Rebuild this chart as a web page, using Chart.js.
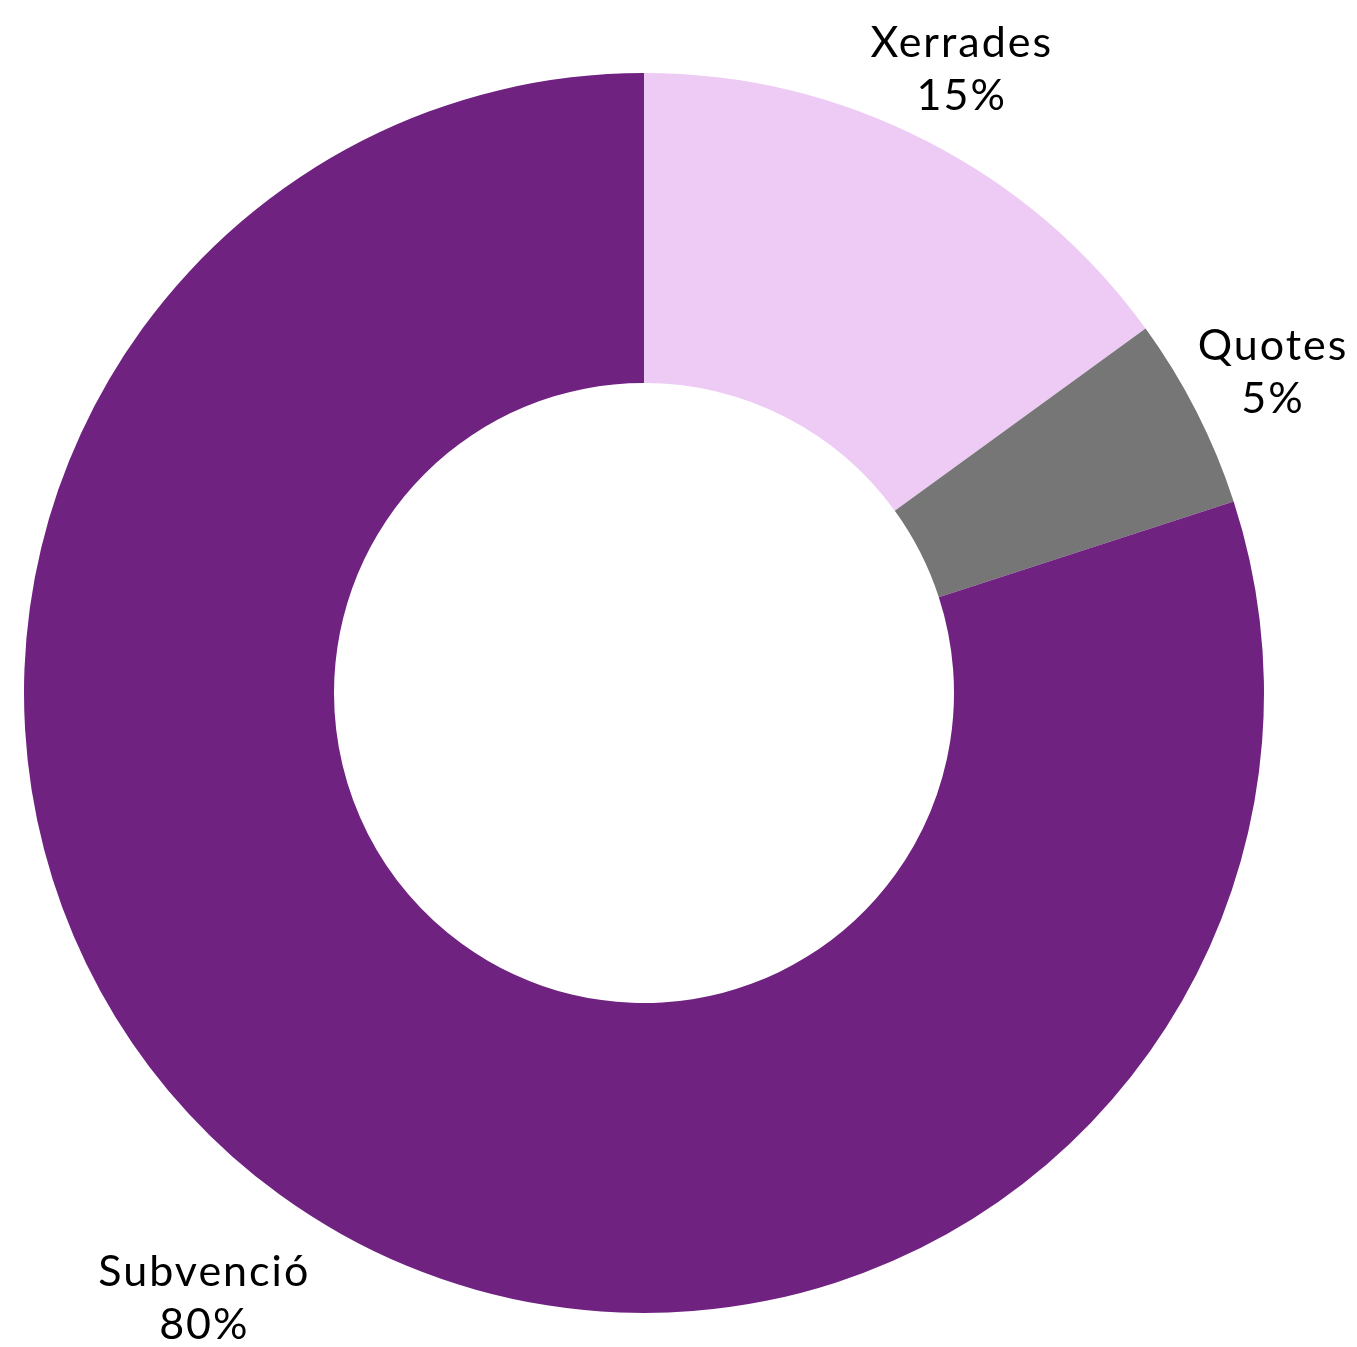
<!DOCTYPE html>
<html>
<head>
<meta charset="utf-8">
<script src="https://cdn.jsdelivr.net/npm/chart.js@4"></script>
<style>
html,body{margin:0;padding:0;background:#fff;}
#wrap{width:1357px;height:1347px;position:relative;}
</style>
</head>
<body>
<div id="wrap"><canvas id="c"></canvas></div>
<script>
const categories = ["Xerrades", "Quotes", "Subvenció"];
const values = [15, 5, 80];
const colors = ["#EDCBF4", "#767676", "#6F2280"];

const labelDist = [80, 86, 128];

const outsideLabels = {
  id: 'outsideLabels',
  afterDatasetsDraw(chart) {
    const ctx = chart.ctx;
    const meta = chart.getDatasetMeta(0);
    const total = values.reduce((a, b) => a + b, 0);
    ctx.save();
    ctx.fillStyle = '#000';
    ctx.font = '400 43px Lato, "Noto Sans", sans-serif';
    if ('letterSpacing' in ctx) ctx.letterSpacing = '2px';
    ctx.textAlign = 'center';
    ctx.textBaseline = 'middle';
    meta.data.forEach((arc, i) => {
      const mid = (arc.startAngle + arc.endAngle) / 2;
      const r = arc.outerRadius + labelDist[i];
      const x = arc.x + Math.cos(mid) * r;
      const y = arc.y + Math.sin(mid) * r;
      const pct = Math.round(values[i] / total * 100) + '%';
      ctx.fillText(categories[i], x, y - 26);
      ctx.fillText(pct, x, y + 27);
    });
    ctx.restore();
  }
};

new Chart(document.getElementById('c'), {
  type: 'doughnut',
  data: {
    labels: categories,
    datasets: [{
      data: values,
      backgroundColor: colors,
      borderWidth: 0,
      hoverOffset: 0
    }]
  },
  options: {
    responsive: true,
    maintainAspectRatio: false,
    animation: false,
    cutout: '50%',
    layout: { padding: { left: 24, right: 93, top: 73, bottom: 34 } },
    plugins: {
      legend: { display: false },
      tooltip: { enabled: false }
    }
  },
  plugins: [outsideLabels]
});
</script>
</body>
</html>
